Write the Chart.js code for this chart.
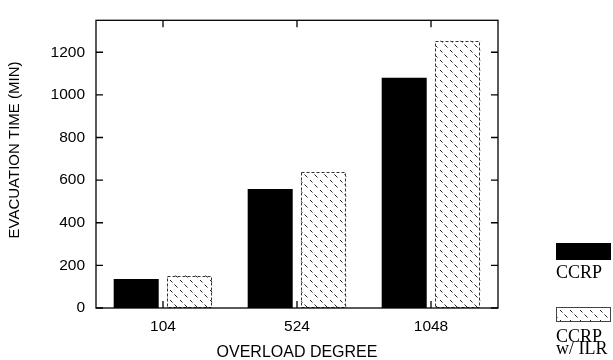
<!DOCTYPE html>
<html>
<head>
<meta charset="utf-8">
<script src="https://cdn.jsdelivr.net/npm/chart.js@4.4.1/dist/chart.umd.min.js"></script>
<style>
  html, body { margin: 0; padding: 0; background: #fff; }
  #wrap { width: 613px; height: 360px; }
</style>
</head>
<body>
<div id="wrap"><canvas id="chart" width="613" height="360"></canvas></div>
<script>
// data
const categories = ['104', '524', '1048'];
const ccrpTimes = [136, 558, 1080];
const ilrTimes = [152, 638, 1254];
const seriesLabels = ['CCRP', 'CCRP w/ ILR'];
const legendLines = [['CCRP'], ['CCRP', 'w/ ILR']];
const yTitle = 'EVACUATION TIME (MIN)';
const yMax = 1350;
const yStep = 200;

// hatch pattern for the ILR bars
function makeHatch() {
    const c = document.createElement('canvas');
    c.width = 10;
    c.height = 10;
    const g = c.getContext('2d');
    g.fillStyle = '#fff';
    g.fillRect(0, 0, 10, 10);
    g.strokeStyle = '#222';
    g.lineWidth = 1;
    g.beginPath();
    for (const t of [0, 5]) {
        g.moveTo(t - 0.5, t - 0.5);
        g.lineTo(t + 2.5, t + 2.5);
    }
    g.stroke();
    return g.createPattern(c, 'repeat');
}
const hatch = makeHatch();

// frame, inward ticks, dashed bar borders, y title and the legend on the right
const framePlugin = {
    id: 'frame',
    afterDatasetsDraw(chart) {
        const ctx = chart.ctx;
        const a = chart.chartArea;
        const xs = chart.scales.x;
        const ys = chart.scales.y;
        ctx.save();

        // dashed outline of hatched bars
        const meta = chart.getDatasetMeta(1);
        ctx.strokeStyle = '#333';
        ctx.lineWidth = 1;
        ctx.setLineDash([3, 2]);
        meta.data.forEach(bar => {
            const l = bar.x - bar.width / 2, r = bar.x + bar.width / 2;
            ctx.strokeRect(Math.round(l) + 0.5, Math.round(bar.y) + 0.5,
                Math.round(r - l) - 1, Math.round(bar.base - bar.y) - 1);
        });
        ctx.setLineDash([]);

        // frame
        ctx.strokeStyle = '#000';
        ctx.lineWidth = 1.3;
        ctx.strokeRect(a.left, a.top, a.right - a.left, a.bottom - a.top);

        // ticks
        const tl = 7;
        ctx.beginPath();
        ys.ticks.forEach(t => {
            const y = ys.getPixelForValue(t.value);
            ctx.moveTo(a.left, y); ctx.lineTo(a.left + tl, y);
            ctx.moveTo(a.right, y); ctx.lineTo(a.right - tl, y);
        });
        categories.forEach((c, i) => {
            const x = xs.getPixelForValue(i);
            ctx.moveTo(x, a.bottom); ctx.lineTo(x, a.bottom - tl);
            ctx.moveTo(x, a.top); ctx.lineTo(x, a.top + tl);
        });
        ctx.stroke();

        // y axis title (sits a little above the plot centre in the original)
        ctx.save();
        ctx.translate(15, 150);
        ctx.rotate(-Math.PI / 2);
        ctx.fillStyle = '#000';
        ctx.font = '15px "Liberation Sans", Arial, sans-serif';
        ctx.textAlign = 'center';
        ctx.textBaseline = 'middle';
        ctx.fillText(yTitle, 0, 0);
        ctx.restore();

        // legend
        const lx = a.right + 58;
        const boxes = [{ y: 243, h: 17, base: [278] }, { y: 307, h: 15, base: [341.5, 354] }];
        chart.data.datasets.forEach((ds, i) => {
            const b = boxes[i];
            ctx.fillStyle = ds.backgroundColor;
            ctx.fillRect(lx, b.y, 55, b.h);
            if (i === 1) {
                ctx.strokeStyle = '#444';
                ctx.lineWidth = 1;
                ctx.strokeRect(lx + 0.5, b.y + 0.5, 54, b.h - 1);
            }
            ctx.fillStyle = '#000';
            ctx.font = '18px "Liberation Serif", serif';
            ctx.textAlign = 'left';
            ctx.textBaseline = 'alphabetic';
            legendLines[i].forEach((line, j) => ctx.fillText(line, lx, b.base[j]));
        });
        ctx.restore();
    }
};

new Chart(document.getElementById('chart'), {
    type: 'bar',
    data: {
        labels: categories,
        datasets: [
            {
                label: seriesLabels[0],
                data: ccrpTimes,
                backgroundColor: '#000',
                borderWidth: 0,
                categoryPercentage: 0.8,
                barPercentage: 0.84
            },
            {
                label: seriesLabels[1],
                data: ilrTimes,
                backgroundColor: hatch,
                borderWidth: 0,
                categoryPercentage: 0.8,
                barPercentage: 0.84
            }
        ]
    },
    options: {
        responsive: false,
        animation: false,
        layout: { padding: { top: 10, right: 115, left: 0, bottom: 0 } },
        plugins: {
            legend: { display: false },
            tooltip: { enabled: false }
        },
        scales: {
            x: {
                grid: { display: false, drawTicks: false },
                border: { display: false },
                ticks: {
                    color: '#000',
                    padding: 9,
                    font: { family: '"Liberation Sans", Arial, sans-serif', size: 15.5 }
                },
                title: {
                    display: true,
                    text: 'OVERLOAD DEGREE',
                    color: '#000',
                    padding: { top: 0, bottom: -2 },
                    font: { family: '"Liberation Sans", Arial, sans-serif', size: 16 }
                },
                afterFit(scale) { scale.height = 52; }
            },
            y: {
                min: 0,
                max: yMax,
                grid: { display: false, drawTicks: false },
                border: { display: false },
                ticks: {
                    stepSize: yStep,
                    includeBounds: false,
                    color: '#000',
                    padding: 11,
                    callback: v => String(v),
                    font: { family: '"Liberation Sans", Arial, sans-serif', size: 15.5 }
                },
                afterFit(scale) { scale.width = 96; }
            }
        }
    },
    plugins: [framePlugin]
});
</script>
</body>
</html>
